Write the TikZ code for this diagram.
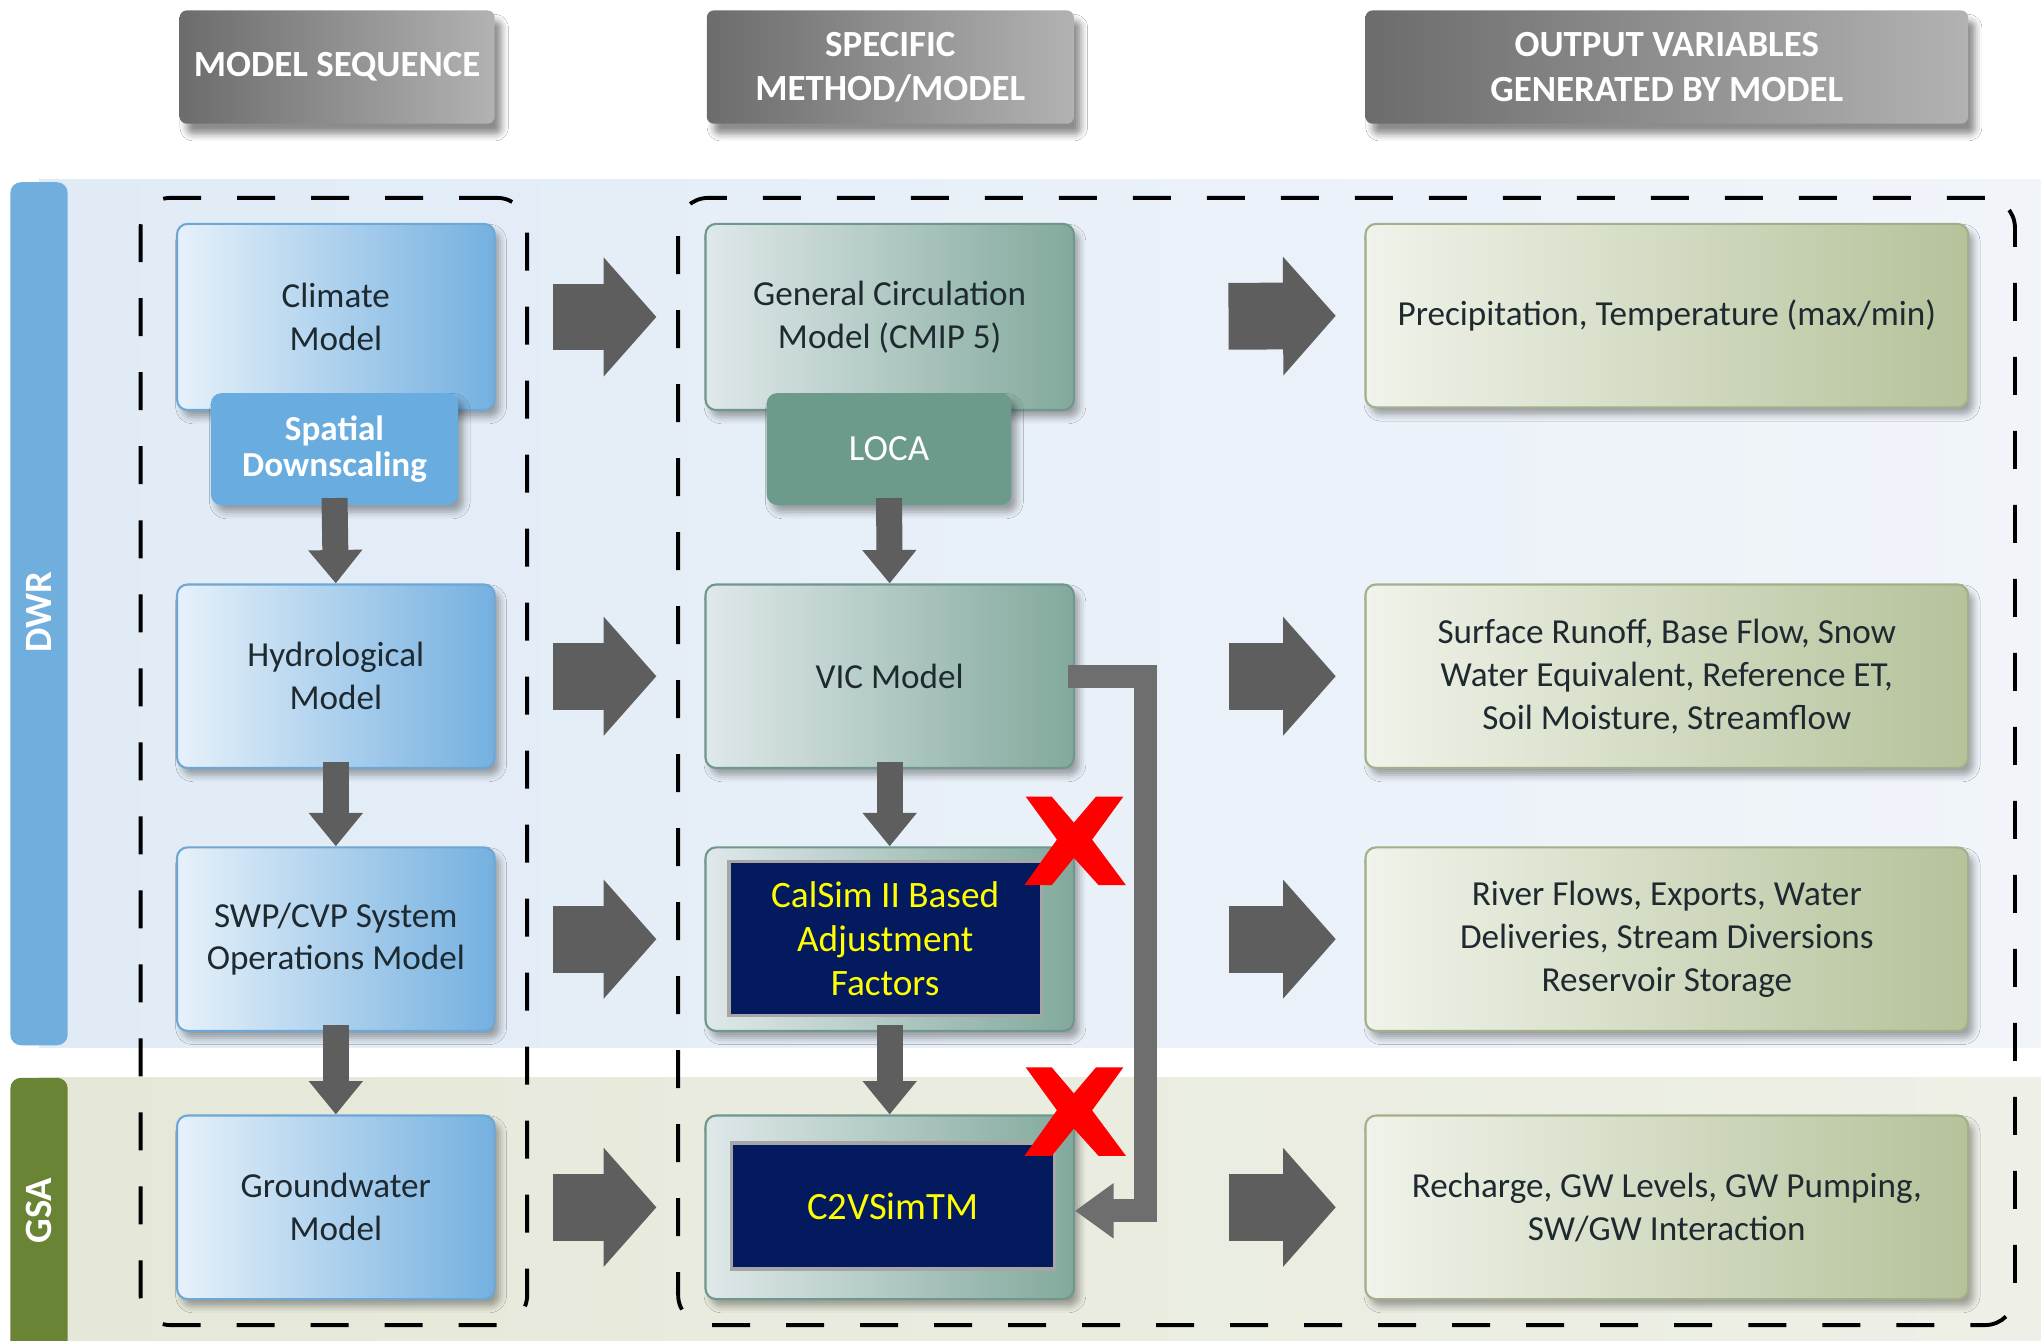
\documentclass[tikz,border=0pt]{standalone}
\usepackage{fontspec}
\setmainfont{Carlito}
\usetikzlibrary{fit,shadows.blur,arrows.meta}
\definecolor{dwrL}{HTML}{E0EBF6}
\definecolor{dwrR}{HTML}{F1F5FA}
\definecolor{gsaL}{HTML}{E5E8D8}
\definecolor{gsaR}{HTML}{EEF0E7}
\definecolor{dwrBar}{HTML}{70AEDD}
\definecolor{gsaBar}{HTML}{6A8436}
\definecolor{hdrL}{HTML}{6C6C6C}
\definecolor{hdrR}{HTML}{B2B2B2}
\definecolor{lbL}{HTML}{E6F1FA}
\definecolor{lbR}{HTML}{74B0E0}
\definecolor{lbD}{HTML}{6EA6D4}
\definecolor{spat}{HTML}{69ACDF}
\definecolor{mbL}{HTML}{DFE8EA}
\definecolor{mbR}{HTML}{82A99C}
\definecolor{mbD}{HTML}{6F978B}
\definecolor{loca}{HTML}{6C9B8B}
\definecolor{rbL}{HTML}{F0F3EA}
\definecolor{rbR}{HTML}{B5C29A}
\definecolor{rbD}{HTML}{A3AF8A}
\definecolor{navy}{HTML}{031B5E}
\definecolor{ylw}{HTML}{FFFF00}
\definecolor{arrG}{HTML}{5E5E5E}
\definecolor{fbG}{HTML}{6E6E6E}
\definecolor{txt}{HTML}{1E2A30}
\definecolor{xred}{HTML}{FF0000}
\begin{document}
\begin{tikzpicture}[x=0.013017cm,y=-0.013017cm,
  hdr/.style={rounded corners=2pt, left color=hdrL, right color=hdrR, inner sep=0pt,
    blur shadow={shadow xshift=2pt, shadow yshift=-3pt, shadow opacity=45}},
  hdrtxt/.style={text=white, font=\bfseries\fontsize{10.5}{12.6}\selectfont, align=center, inner sep=0pt},
  bar/.style={rounded corners=3pt, inner sep=0pt},
  barlab/.style={rotate=90, text=white, font=\bfseries\fontsize{11}{13}\selectfont},
  frame/.style={draw=black, line width=1.1pt, dash pattern=on 0.38cm off 0.36cm,
    rounded corners=0.3cm, inner sep=0pt},
  boxbase/.style={rounded corners=3pt, line width=0.6pt, inner sep=0pt,
    blur shadow={shadow xshift=1.5pt, shadow yshift=-2pt, shadow opacity=35}},
  lbox/.style={boxbase, draw=lbD, left color=lbL, right color=lbR},
  mbox/.style={boxbase, draw=mbD, left color=mbL, right color=mbR},
  rbox/.style={boxbase, draw=rbD, left color=rbL, right color=rbR},
  btxt/.style={text=txt, font=\fontsize{10}{12.2}\selectfont, align=center, inner sep=0pt},
  subbox/.style={boxbase, line width=0pt},
  subtxt/.style={text=white, align=center, inner sep=0pt},
  navybox/.style={fill=navy, draw=gray!70, line width=1pt, inner sep=0pt},
  navytxt/.style={text=ylw, align=center, inner sep=0pt},
  fatR/.style={draw=arrG, line width=19pt, -{Triangle[width=33pt,length=15pt]}},
  fatD/.style={draw=arrG, line width=7.4pt, -{Triangle[width=14.8pt,length=9.5pt]}},
  fbk/.style={draw=fbG, line width=6.6pt, -{Triangle[width=15pt,length=11pt]}}
]
\useasboundingbox (0,0) rectangle (1568,1030);
\fill[white] (0,0) rectangle (1568,1030);

% bands
\fill[left color=dwrL, right color=dwrR] (30,138) rectangle (1568,805);
\fill[left color=gsaL, right color=gsaR] (30,828) rectangle (1568,1030);
\node[bar, fill=dwrBar, fit={(8,140)(52,803)}] (dwrbar) {};
\node[barlab] (dwrlab) at (30,470) {DWR};
\node[bar, fill=gsaBar, fit={(8,828)(52,1045)}] (gsabar) {};
\node[barlab] (gsalab) at (30,930) {GSA};

% headers
\node[hdr, fit={(138,8)(380,95)}] (h1) {};
\node[hdrtxt] (h1t) at (h1.center) {MODEL SEQUENCE};
\node[hdr, fit={(543,8)(825,95)}] (h2) {};
\node[hdrtxt] (h2t) at (h2.center) {SPECIFIC\\METHOD/MODEL};
\node[hdr, fit={(1049,8)(1512,95)}] (h3) {};
\node[hdrtxt] (h3t) at (h3.center) {OUTPUT VARIABLES\\GENERATED BY MODEL};

% dashed frames
\node[frame, fit={(108,152)(405,1018)}] (f1) {};
\node[frame, fit={(521,152)(1548,1018)}] (f2) {};

% left column
\node[lbox, fit={(136,172)(380,315)}] (clim) {};
\node[btxt] (climt) at (clim.center) {Climate\\Model};
\node[subbox, fill=spat, fit={(162,302)(352,388)}] (spat) {};
\node[subtxt, font=\bfseries\fontsize{10}{10}\selectfont] (spatt) at (spat.center) {Spatial\\Downscaling};
\node[lbox, fit={(136,449)(380,590)}] (hyd) {};
\node[btxt] (hydt) at (hyd.center) {Hydrological\\Model};
\node[lbox, fit={(136,651)(380,792)}] (swp) {};
\node[btxt] (swpt) at (swp.center) {SWP/CVP System\\Operations Model};
\node[lbox, fit={(136,857)(380,998)}] (gw) {};
\node[btxt] (gwt) at (gw.center) {Groundwater\\Model};

% middle column
\node[mbox, fit={(542,172)(825,315)}] (gcm) {};
\node[btxt] (gcmt) at (gcm.center) {General Circulation\\Model (CMIP 5)};
\node[subbox, fill=loca, fit={(589,302)(777,388)}] (loca) {};
\node[subtxt, font=\fontsize{10.5}{12}\selectfont] (locat) at (loca.center) {LOCA};
\node[mbox, fit={(542,449)(825,590)}] (vic) {};
\node[btxt] (vict) at (vic.center) {VIC Model};
\node[mbox, fit={(542,651)(825,792)}] (cal) {};
\node[navybox, fit={(560,662)(800,780)}] (calin) {};
\node[navytxt, font=\fontsize{10.6}{12.5}\selectfont] (calt) at (calin.center) {CalSim II Based\\Adjustment\\Factors};
\node[mbox, fit={(542,857)(825,998)}] (c2v) {};
\node[navybox, fit={(562,878)(810,975)}] (c2vin) {};
\node[navytxt, font=\fontsize{11}{13}\selectfont] (c2vt) at (c2vin.center) {C2VSimTM};

% right column
\node[rbox, fit={(1049,172)(1512,313)}] (out1) {};
\node[btxt] (out1t) at (out1.center) {Precipitation, Temperature (max/min)};
\node[rbox, fit={(1049,449)(1512,590)}] (out2) {};
\node[btxt] (out2t) at (out2.center) {Surface Runoff, Base Flow, Snow\\Water Equivalent, Reference ET,\\Soil Moisture, Streamflow};
\node[rbox, fit={(1049,651)(1512,792)}] (out3) {};
\node[btxt] (out3t) at (out3.center) {River Flows, Exports, Water\\Deliveries, Stream Diversions\\Reservoir Storage};
\node[rbox, fit={(1049,857)(1512,998)}] (out4) {};
\node[btxt] (out4t) at (out4.center) {Recharge, GW Levels, GW Pumping,\\SW/GW Interaction};

% big right arrows
\foreach \a/\b in {clim/gcm, hyd/vic, swp/cal, gw/c2v}
  \draw[fatR, shorten <=0.573cm, shorten >=0.48cm] (\a.east) -- (\b.west);
\foreach \a/\b in {gcm/out1, vic/out2, cal/out3, c2v/out4}
  \draw[fatR, shorten <=1.536cm, shorten >=0.286cm] (\a.east) -- (\b.west);

% down arrows
\draw[fatD] ([yshift=2pt]spat.south) -- (hyd.north);
\draw[fatD] ([yshift=2pt]hyd.south) -- (swp.north);
\draw[fatD] ([yshift=2pt]swp.south) -- (gw.north);
\draw[fatD] ([yshift=2pt]loca.south) -- (vic.north);
\draw[fatD] ([yshift=2pt]vic.south) -- (cal.north);
\draw[fatD] ([yshift=2pt]cal.south) -- (c2v.north);

% feedback connector
\coordinate (fb) at (880,700);
\draw[fbk] ([xshift=-2pt]vic.east) -| (fb) |- ([yshift=-1pt]c2v.east);

% red crosses
\foreach \yy in {612,820}{
\begin{scope}[shift={(787,\yy)}]
\fill[xred] (1,0) -- (21,0) -- (38,20) -- (55,0) -- (76,0) -- (52,33) -- (78,68) -- (57,68)
  -- (38,47) -- (21,68) -- (0,68) -- (25,33) -- cycle;
\end{scope}}
\end{tikzpicture}
\end{document}
